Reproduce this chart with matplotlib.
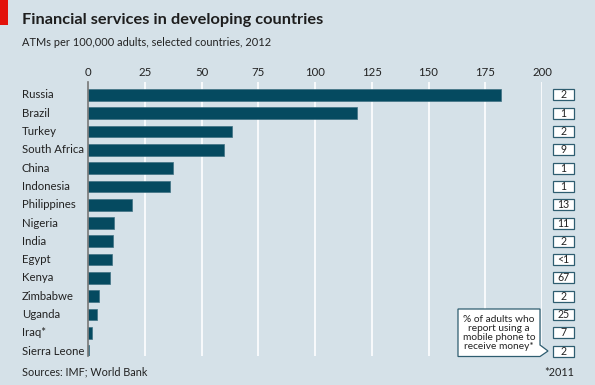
import numpy as np
import matplotlib.pyplot as plt
from matplotlib.patches import Rectangle, Polygon
from matplotlib.transforms import blended_transform_factory

plt.rcParams['font.family'] = ['Lato', 'DejaVu Sans']

countries = ['Russia', 'Brazil', 'Turkey', 'South Africa', 'China', 'Indonesia',
             'Philippines', 'Nigeria', 'India', 'Egypt', 'Kenya', 'Zimbabwe',
             'Uganda', 'Iraq*', 'Sierra Leone']
atms = [182, 118.5, 63.3, 59.9, 37.4, 36.3, 19.2, 11.3, 11.1, 10.4, 9.8, 4.7, 4.0, 1.9, 0.6]
mobile = ['2', '1', '2', '9', '1', '1', '13', '11', '2', '<1', '67', '2', '25', '7', '2']
xticks = [0, 25, 50, 75, 100, 125, 150, 175, 200]

bg = '#d5e1e8'
bar_col = '#054a60'
W, H = 595, 385

fig = plt.figure(figsize=(W / 100, H / 100), dpi=100, facecolor=bg)

def fx(px):
    return px / W

def fy(py):
    return 1 - py / H

# red tag
fig.patches.append(Rectangle((0, fy(25)), fx(8), 25 / H, transform=fig.transFigure,
                             color='#e3120b', lw=0))

fig.text(fx(22), fy(20), 'Financial services in developing countries', fontsize=11.8,
         fontweight='bold', color='#1e1e1e', va='center', ha='left')
fig.text(fx(22), fy(42), 'ATMs per 100,000 adults, selected countries, 2012', fontsize=7.95,
         color='#222222', va='center', ha='left')
fig.text(fx(22), fy(372), 'Sources: IMF; World Bank', fontsize=7.8, color='#222222',
         va='center', ha='left')
fig.text(fx(574), fy(372), '*2011', fontsize=7.8, color='#222222', va='center', ha='right')

ax = fig.add_axes([fx(88), fy(356), fx(542) - fx(88), (356 - 82) / H])
ax.set_facecolor(bg)
y = np.arange(len(countries))
ax.barh(y, atms, height=0.64, color=bar_col, edgecolor='#3f7183', lw=0.5, zorder=3)
ax.set_xlim(0, 200)
ax.set_ylim(14.27, -0.71)
ax.set_xticks(xticks)
ax.xaxis.tick_top()
ax.tick_params(axis='x', length=0, labelsize=8.2, pad=3, labelcolor='#222222')
ax.set_yticks([])
for xt in xticks[1:]:
    ax.axvline(xt, color='white', lw=1.2, zorder=1)
for s in ['top', 'right', 'bottom']:
    ax.spines[s].set_visible(False)
ax.spines['left'].set_color('#777777')
ax.spines['left'].set_linewidth(1.2)
ax.spines['left'].set_zorder(4)

# country labels
tr = blended_transform_factory(fig.transFigure, ax.transData)
for i, c in enumerate(countries):
    ax.text(fx(22), i, c, transform=tr, fontsize=8.2, color='#222222',
            va='center', ha='left')

# mobile-money boxes
bw = 20.6 / W
bh = 11 / 18.29
for i, m in enumerate(mobile):
    ax.add_patch(Rectangle((fx(553), i - bh / 2), bw, bh, transform=tr, facecolor='white',
                           edgecolor='#2e5d70', lw=0.9, clip_on=False, zorder=5))
    ax.text(fx(553) + bw / 2, i, m, transform=tr, fontsize=7.6, color='#222222',
            ha='center', va='center', zorder=6)

# callout
pts = [(458, 309), (540, 309), (540, 345), (548, 351), (540, 356.5), (458, 356.5)]
fig.patches.append(Polygon([(fx(px), fy(py)) for px, py in pts], closed=True,
                           transform=fig.transFigure, facecolor='white',
                           edgecolor='#2e5d70', lw=0.9, zorder=5))
fig.text(fx(499), fy(333), '% of adults who\nreport using a\nmobile phone to\nreceive money*',
         fontsize=7.3, color='#222222', ha='center', va='center', linespacing=1.0,
         zorder=6)

fig.savefig('out.png', dpi=100, facecolor=bg)
